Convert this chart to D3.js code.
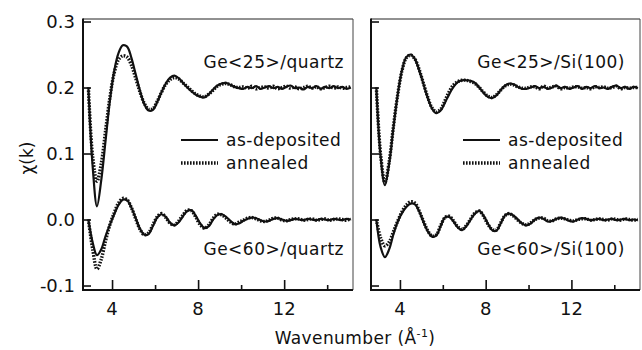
<!DOCTYPE html>
<html><head><meta charset="utf-8">
<script src="https://cdn.jsdelivr.net/npm/d3@7/dist/d3.min.js"></script>
<style>
html,body{margin:0;padding:0;background:#fff;}
svg text{font-family:"DejaVu Sans",Verdana,sans-serif;fill:#111;}
</style></head>
<body><svg id="c" width="642" height="350"></svg>
<script>
// wavenumber k (Å^-1)
const k = [2.9,3.1,3.3,3.5,3.7,3.9,4.1,4.3,4.5,4.7,4.9,5.1,5.3,5.5,5.7,5.9,6.1,6.3,6.5,6.7,6.9,7.1,7.3,7.5,7.7,7.9,8.1,8.3,8.5,8.7,8.9,9.1,9.3,9.5,9.7,9.9,10.1,10.3,10.5,10.7,10.9,11.1,11.3,11.5,11.7,11.9,12.1,12.3,12.5,12.7,12.9,13.1,13.3,13.5,13.7,13.9,14.1,14.3,14.5,14.7,14.9,15.1];

// Ge<25>/quartz (offset +0.2)
const q25Dep = [0.200,0.080,0.020,0.060,0.120,0.180,0.225,0.252,0.264,0.262,0.245,0.220,0.195,0.175,0.165,0.166,0.178,0.193,0.206,0.215,0.218,0.214,0.207,0.200,0.194,0.189,0.186,0.185,0.190,0.197,0.203,0.206,0.207,0.204,0.201,0.199,
0.198,0.201,0.199,0.202,0.198,0.200,0.202,0.199,0.201,0.198,0.201,0.203,0.199,0.200,0.197,0.201,0.199,0.202,0.198,0.201,0.199,0.202,0.199,0.201,0.198,0.200];
const q25Ann = [0.200,0.095,0.058,0.085,0.135,0.185,0.222,0.242,0.248,0.246,0.234,0.214,0.193,0.176,0.167,0.168,0.179,0.193,0.205,0.212,0.215,0.213,0.207,0.201,0.195,0.190,0.187,0.186,0.190,0.196,0.202,0.205,0.206,0.204,0.201,0.200,
0.201,0.199,0.202,0.198,0.200,0.201,0.199,0.202,0.198,0.200,0.202,0.199,0.201,0.198,0.200,0.202,0.199,0.201,0.198,0.200,0.202,0.199,0.201,0.199,0.200,0.201];
// Ge<60>/quartz
const q60Dep = [0.000,-0.035,-0.054,-0.045,-0.025,-0.008,0.008,0.022,0.030,0.029,0.018,0.002,-0.014,-0.023,-0.022,-0.010,0.003,0.008,0.004,-0.005,-0.009,-0.004,0.005,0.013,0.014,0.005,-0.006,-0.013,-0.010,0.000,0.007,0.008,0.004,-0.002,-0.007,-0.006,
-0.002,0.001,0.003,0.002,-0.001,-0.003,-0.002,0.001,0.002,0.000,-0.002,-0.001,0.001,0.000,-0.001,0.001,0.000,-0.001,0.001,0.000,-0.001,0.001,0.000,-0.001,0.001,0.000];
const q60Ann = [0.000,-0.045,-0.075,-0.060,-0.032,-0.008,0.010,0.025,0.032,0.030,0.018,0.001,-0.015,-0.023,-0.020,-0.008,0.004,0.009,0.003,-0.006,-0.008,-0.002,0.007,0.014,0.013,0.003,-0.008,-0.013,-0.008,0.002,0.008,0.007,0.002,-0.004,-0.007,-0.004,
-0.001,0.002,0.003,0.001,-0.002,-0.003,-0.001,0.002,0.002,-0.001,-0.002,0.000,0.001,0.001,-0.001,0.000,0.001,-0.001,0.000,0.001,-0.001,0.000,0.001,0.000,-0.001,0.001];
// Ge<25>/Si(100) (offset +0.2)
const s25Dep = [0.200,0.095,0.052,0.085,0.140,0.190,0.227,0.246,0.250,0.243,0.226,0.205,0.184,0.168,0.161,0.165,0.177,0.190,0.201,0.208,0.211,0.211,0.210,0.207,0.200,0.192,0.186,0.184,0.188,0.196,0.203,0.206,0.205,0.201,0.198,0.198,
0.200,0.202,0.199,0.201,0.198,0.200,0.203,0.199,0.201,0.198,0.200,0.202,0.198,0.201,0.199,0.202,0.199,0.200,0.198,0.201,0.203,0.199,0.201,0.198,0.201,0.199];
const s25Ann = [0.200,0.098,0.056,0.088,0.142,0.190,0.226,0.245,0.249,0.243,0.227,0.206,0.185,0.169,0.163,0.167,0.180,0.194,0.204,0.209,0.211,0.211,0.209,0.206,0.200,0.193,0.187,0.185,0.189,0.196,0.202,0.205,0.204,0.201,0.199,0.199,
0.201,0.201,0.198,0.202,0.199,0.201,0.202,0.198,0.200,0.199,0.201,0.201,0.199,0.200,0.198,0.201,0.200,0.201,0.199,0.200,0.202,0.198,0.200,0.199,0.200,0.200];
// Ge<60>/Si(100)
const s60Dep = [0.000,-0.042,-0.057,-0.045,-0.022,-0.003,0.010,0.019,0.024,0.023,0.012,-0.004,-0.018,-0.026,-0.024,-0.010,0.003,0.004,-0.003,-0.012,-0.016,-0.010,0.000,0.009,0.013,0.006,-0.006,-0.016,-0.017,-0.006,0.006,0.009,0.006,0.000,-0.006,-0.009,
-0.006,0.000,0.003,0.001,-0.003,-0.002,0.001,0.003,0.001,-0.002,-0.003,0.000,0.002,0.001,-0.001,0.000,0.001,-0.001,0.000,0.001,-0.001,0.000,0.001,-0.001,0.000,-0.001];
const s60Ann = [0.000,-0.028,-0.040,-0.034,-0.018,-0.002,0.012,0.022,0.027,0.025,0.013,-0.003,-0.017,-0.025,-0.023,-0.009,0.003,0.005,-0.002,-0.011,-0.015,-0.009,0.001,0.010,0.013,0.005,-0.007,-0.015,-0.016,-0.005,0.006,0.009,0.005,-0.001,-0.006,-0.008,
-0.005,0.000,0.002,0.002,-0.002,-0.002,0.001,0.002,0.001,-0.001,-0.002,0.000,0.001,0.001,-0.001,0.000,0.001,0.000,-0.001,0.001,0.000,-0.001,0.001,0.000,-0.001,0.000];

const xTickMajor = [4, 8, 12];
const xTickMinor = [6, 10, 14];
const yTicks = [0.3, 0.2, 0.1, 0.0, -0.1];
const yTickLabels = ["0.3", "0.2", "0.1", "0.0", "-0.1"];

const panels = [
  {x0: 83, x1: 353, dep: q25Dep, ann: q25Ann, dep2: q60Dep, ann2: q60Ann,
   top: "Ge<25>/quartz", bot: "Ge<60>/quartz", labelX: 344, legX: 181, yLabels: true},
  {x0: 371, x1: 640, dep: s25Dep, ann: s25Ann, dep2: s60Dep, ann2: s60Ann,
   top: "Ge<25>/Si(100)", bot: "Ge<60>/Si(100)", labelX: 625, legX: 463, yLabels: false}
];

const svg = d3.select("#c");
const yTop = 19, yBot = 290;
const y = d3.scaleLinear().domain([-0.1068, 0.3038]).range([yBot, yTop]);
const FS = 17, TFS = 18;

panels.forEach(p => {
  const x = d3.scaleLinear().domain([2.65, 15.2]).range([p.x0, p.x1]);
  const g = svg.append("g");
  g.append("line").attr("x1", p.x0).attr("x2", p.x1).attr("y1", yTop).attr("y2", yTop).attr("stroke", "#222").attr("stroke-width", 1);
  g.append("line").attr("x1", p.x1).attr("x2", p.x1).attr("y1", yTop).attr("y2", yBot).attr("stroke", "#444").attr("stroke-width", 1);

  const ya = d3.axisRight(y).tickValues(yTicks).tickSize(8).tickFormat("");
  const yg = g.append("g").attr("transform", `translate(${p.x0},0)`).call(ya);
  yg.select(".domain").remove();
  yg.selectAll(".tick line").attr("stroke", "#111").attr("stroke-width", 1.6);
  if (p.yLabels) {
    yTicks.forEach((v, i) => {
      g.append("text").attr("x", p.x0 - 8).attr("y", y(v)).attr("dy", "0.36em")
        .attr("text-anchor", "end").attr("font-size", TFS).text(yTickLabels[i]);
    });
  }
  const xa = d3.axisTop(x).tickValues(xTickMajor).tickSize(10).tickFormat("");
  const xg = g.append("g").attr("transform", `translate(0,${yBot})`).call(xa);
  xg.select(".domain").remove();
  xg.selectAll(".tick line").attr("stroke", "#111").attr("stroke-width", 1.6);
  const xm = d3.axisTop(x).tickValues(xTickMinor).tickSize(5).tickFormat("");
  const xmg = g.append("g").attr("transform", `translate(0,${yBot})`).call(xm);
  xmg.select(".domain").remove();
  xmg.selectAll(".tick line").attr("stroke", "#111").attr("stroke-width", 1.6);
  xTickMajor.forEach(v => {
    g.append("text").attr("x", x(v)).attr("y", 315).attr("text-anchor", "middle")
      .attr("font-size", TFS).text(d3.format("d")(v));
  });
  g.append("line").attr("x1", p.x0).attr("x2", p.x0).attr("y1", yTop - 0.5).attr("y2", yBot + 1).attr("stroke", "#111").attr("stroke-width", 2);
  g.append("line").attr("x1", p.x0 - 1).attr("x2", p.x1).attr("y1", yBot).attr("y2", yBot).attr("stroke", "#111").attr("stroke-width", 2);

  const line = d3.line().x((d, i) => x(k[i])).y(d => y(d)).curve(d3.curveCatmullRom.alpha(0.5));
  const cg = g.append("g");
  [[p.dep, false], [p.dep2, false], [p.ann, true], [p.ann2, true]].forEach(([arr, dotted]) => {
    const path = cg.append("path").datum(arr).attr("d", line).attr("fill", "none")
      .attr("stroke", "#111").attr("stroke-linejoin", "round");
    if (dotted) path.attr("stroke-width", 3.4).attr("stroke-dasharray", "1.6 1.4");
    else path.attr("stroke-width", 2.2);
  });

  g.append("text").attr("x", p.labelX).attr("y", 68).attr("text-anchor", "end")
    .attr("font-size", FS).attr("letter-spacing", 0.5).text(p.top);
  g.append("text").attr("x", p.labelX).attr("y", 255).attr("text-anchor", "end")
    .attr("font-size", FS).attr("letter-spacing", 0.5).text(p.bot);
  g.append("line").attr("x1", p.legX).attr("x2", p.legX + 37).attr("y1", 140).attr("y2", 140)
    .attr("stroke", "#111").attr("stroke-width", 2);
  g.append("line").attr("x1", p.legX).attr("x2", p.legX + 37).attr("y1", 163).attr("y2", 163)
    .attr("stroke", "#111").attr("stroke-width", 3.4).attr("stroke-dasharray", "1.6 1.4");
  g.append("text").attr("x", p.legX + 45).attr("y", 146).attr("font-size", FS).attr("letter-spacing", 0.5).text("as-deposited");
  g.append("text").attr("x", p.legX + 45).attr("y", 169).attr("font-size", FS).attr("letter-spacing", 0.5).text("annealed");
});

svg.append("text").attr("transform", "translate(33,158) rotate(-90)").attr("text-anchor", "middle")
  .attr("font-size", FS).text("χ(k)");
const xl = svg.append("text").attr("x", 355).attr("y", 344).attr("text-anchor", "middle").attr("font-size", FS).attr("letter-spacing", 0.4);
xl.append("tspan").text("Wavenumber (Å");
xl.append("tspan").attr("font-size", 11).attr("dy", -7).text("-1");
xl.append("tspan").attr("dy", 7).text(")");
</script></body></html>
